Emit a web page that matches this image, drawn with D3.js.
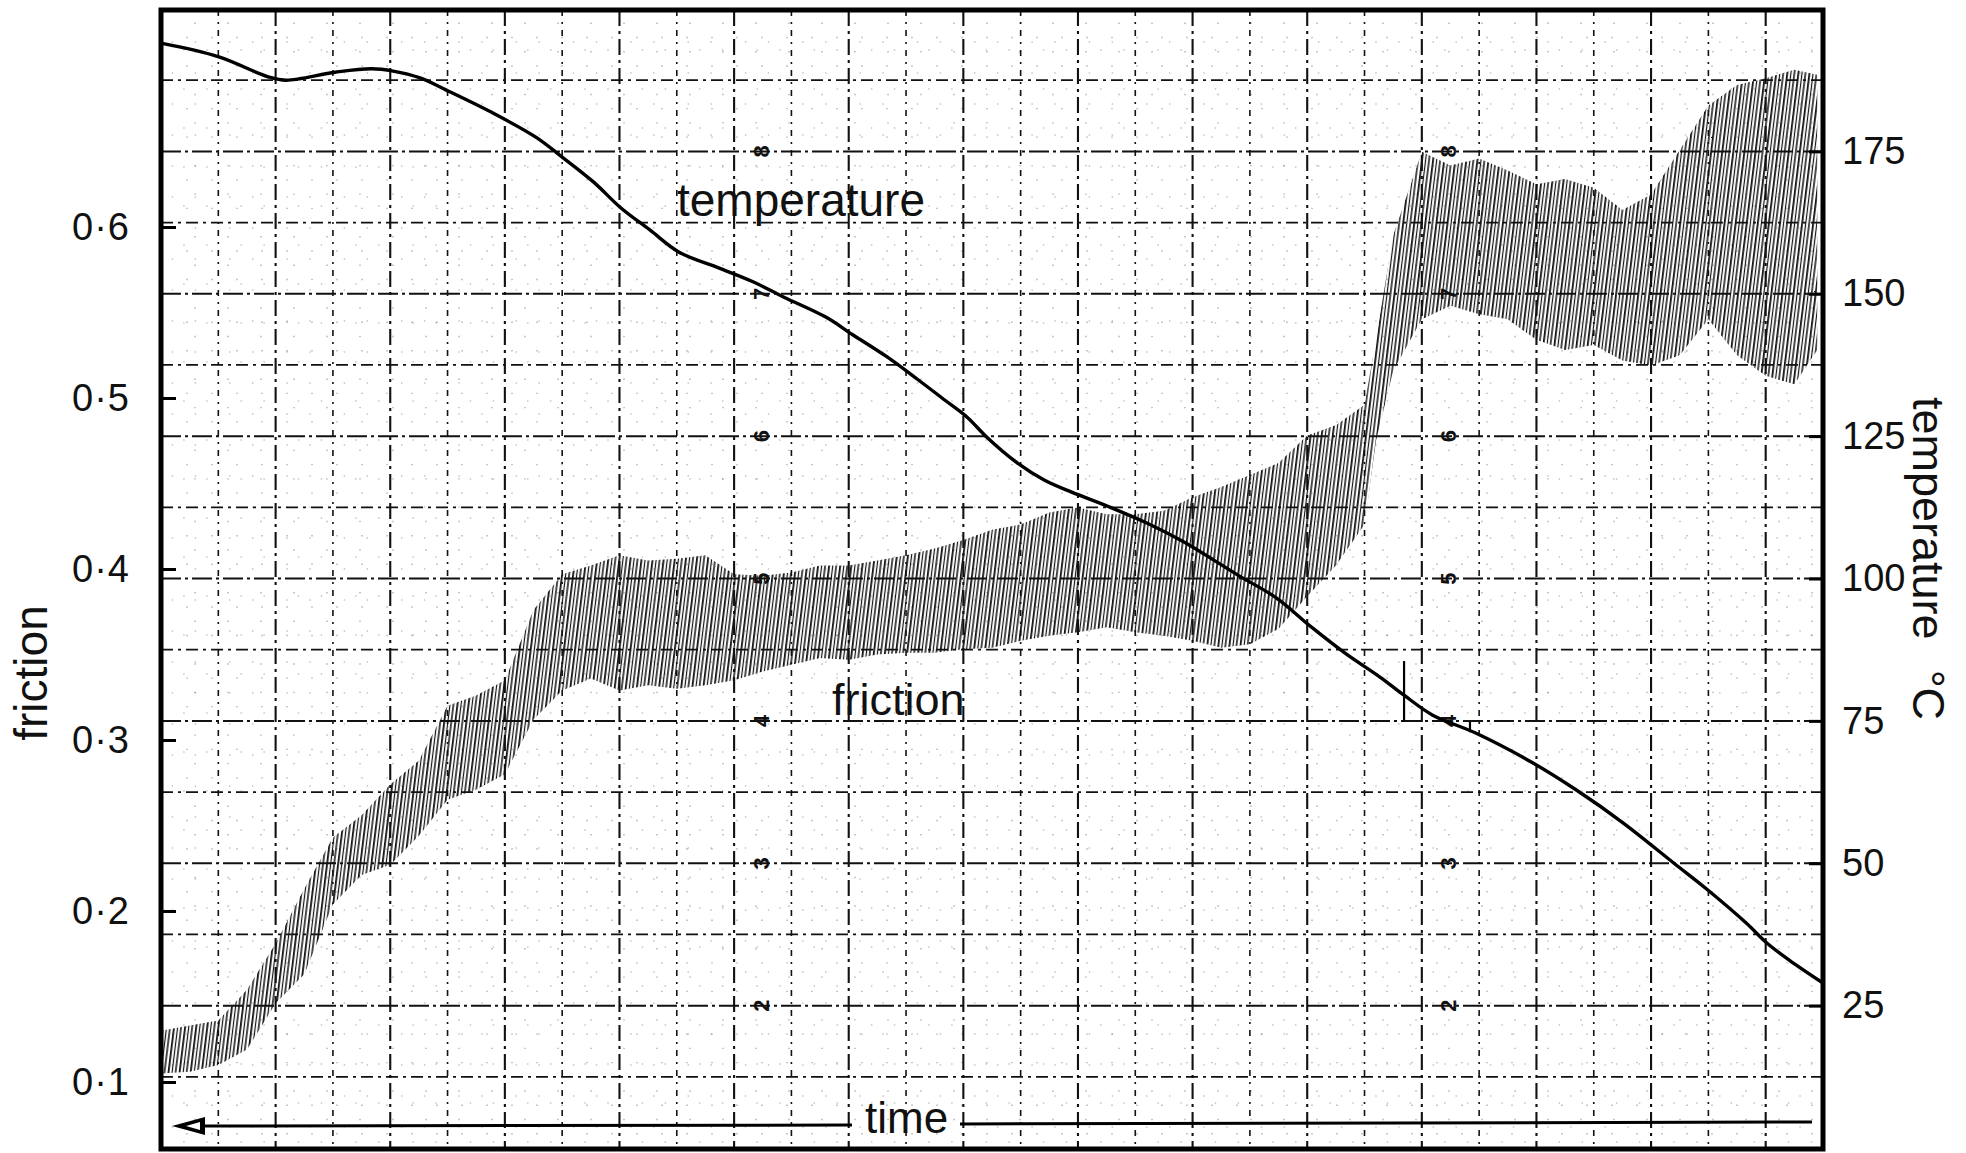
<!DOCTYPE html>
<html>
<head>
<meta charset="utf-8">
<script src="https://cdn.jsdelivr.net/npm/d3@7"></script>
<style>
  html, body { margin: 0; padding: 0; background: #fff; }
  svg { display: block; }
  text { font-family: "Liberation Sans", Arial, sans-serif; fill: #111; }
</style>
</head>
<body>
<svg id="chart" width="1966" height="1153"></svg>
<script>
// Time is measured in chart-paper divisions (29 across the recorder sheet).

// Temperature trace (°C)
const tempTime = [0, 1.01, 1.87, 2.18, 3.04, 3.67, 4.05, 4.52, 4.97, 5.76, 6.54, 7.00, 7.55, 8.01, 8.53, 9.04,
  9.74, 10.33, 10.87, 11.60, 12.07, 12.67, 13.21, 13.68, 14.08, 14.41, 14.94, 15.41, 15.88, 16.54, 17.21,
  17.85, 18.79, 19.46, 20.07, 20.66, 21.27, 21.69, 22.19, 22.93, 23.94, 24.69, 25.51, 26.40, 26.99, 27.66,
  28.02, 28.41, 28.98];
const tempValues = [194.0, 191.6, 188.1, 187.5, 188.9, 189.5, 189.1, 187.9, 185.8, 181.9, 177.5, 174.0, 169.6,
  165.2, 161.2, 157.3, 154.5, 152.1, 149.4, 145.9, 142.8, 138.9, 134.9, 131.3, 128.2, 124.8, 120.3, 117.3,
  115.2, 112.6, 109.7, 106.4, 100.6, 96.6, 91.5, 86.9, 82.7, 79.5, 76.0, 72.9, 67.6, 62.9, 57.1, 50.0, 45.3,
  39.5, 36.0, 33.0, 29.1];

// Friction trace: stick-slip band, upper and lower extremes of the pen swing
const frictionTime = [0, 0.5, 1, 1.5, 2, 2.5, 3, 3.5, 4, 4.5, 5, 5.5, 6, 6.5, 7, 7.5, 8, 8.5, 9, 9.5, 10,
  10.5, 11, 11.5, 12, 12.5, 13, 13.5, 14, 14.5, 15, 15.5, 16, 16.5, 17, 17.5, 18, 18.5, 19, 19.5, 20, 20.5,
  21, 21.2, 21.5, 22, 22.5, 23, 23.5, 24, 24.5, 25, 25.5, 26, 26.5, 27, 27.5, 28, 28.5, 28.9];
const frictionHigh = [0.130, 0.133, 0.136, 0.154, 0.181, 0.213, 0.243, 0.256, 0.274, 0.288, 0.320, 0.326,
  0.335, 0.376, 0.397, 0.402, 0.408, 0.405, 0.406, 0.408, 0.397, 0.396, 0.398, 0.402, 0.402, 0.405, 0.408,
  0.412, 0.417, 0.423, 0.426, 0.433, 0.436, 0.432, 0.432, 0.434, 0.442, 0.448, 0.455, 0.462, 0.478, 0.484,
  0.496, 0.534, 0.595, 0.644, 0.636, 0.640, 0.633, 0.625, 0.628, 0.623, 0.610, 0.619, 0.645, 0.671, 0.683,
  0.687, 0.692, 0.689];
const frictionLow = [0.105, 0.106, 0.110, 0.119, 0.146, 0.163, 0.204, 0.221, 0.227, 0.244, 0.265, 0.271,
  0.280, 0.312, 0.329, 0.336, 0.329, 0.332, 0.330, 0.332, 0.335, 0.340, 0.344, 0.348, 0.347, 0.350, 0.351,
  0.351, 0.353, 0.354, 0.358, 0.361, 0.363, 0.366, 0.363, 0.361, 0.358, 0.354, 0.356, 0.365, 0.384, 0.402,
  0.426, 0.475, 0.516, 0.546, 0.554, 0.549, 0.546, 0.534, 0.528, 0.531, 0.522, 0.519, 0.525, 0.546, 0.525,
  0.513, 0.508, 0.528];

// Short pen marks crossing the temperature trace
const markTime = [21.69, 22.84];
const markFrom = [85.5, 74.8];
const markTo = [75.0, 73.0];

// Axis ticks
const frictionTicks = [0.1, 0.2, 0.3, 0.4, 0.5, 0.6];
const frictionTickLabels = ["0·1", "0·2", "0·3", "0·4", "0·5", "0·6"];
const tempTicks = [25, 50, 75, 100, 125, 150, 175];

// Printed scale of the recorder paper
const paperDigits = ["2", "3", "4", "5", "6", "7", "8"];
const paperDigitTemps = [25, 50, 75, 100, 125, 150, 175];
const paperDigitColumns = [10.47, 22.47];

const svg = d3.select("#chart");

const plotL = 161, plotR = 1823, plotT = 10, plotB = 1149;
const x = d3.scaleLinear().domain([0, 29]).range([plotL, plotR]);
const yT = d3.scaleLinear().domain([0, 200]).range([1148, 9]);
const yF = d3.scaleLinear().domain([0.1, 0.6]).range([1082, 227]);

// hatch used for the dense stick-slip strokes
const defs = svg.append("defs");
const pat = defs.append("pattern")
  .attr("id", "strokes")
  .attr("patternUnits", "userSpaceOnUse")
  .attr("width", 11).attr("height", 60)
  .attr("patternTransform", "rotate(7)");
[[0, 1.8], [3.9, 1.2], [7.2, 1.5]].forEach(([px, w]) => {
  pat.append("rect").attr("x", px).attr("y", 0).attr("width", w).attr("height", 60).attr("fill", "#111");
});

defs.append("clipPath").attr("id", "plot")
  .append("rect").attr("x", plotL).attr("y", plotT).attr("width", plotR - plotL).attr("height", plotB - plotT);

// --- paper grid ---
const grid = svg.append("g").attr("clip-path", "url(#plot)");

// fine dotted subdivisions (sparse specks of the printed fine grid)
const minorT = d3.range(2.5, 200, 2.5).filter(v => Math.abs(v / 12.5 - Math.round(v / 12.5)) > 1e-6);
grid.selectAll("line.minorH").data(minorT).join("line")
  .attr("x1", plotL).attr("x2", plotR)
  .attr("y1", d => yT(d)).attr("y2", d => yT(d))
  .attr("stroke", "#000").attr("stroke-width", 1.4).attr("stroke-opacity", 0.22)
  .attr("stroke-dasharray", (d, i) => i % 2 ? "2,31" : "2,23");
const minorX = d3.range(0.2, 29, 0.2).filter(v => Math.abs(v - Math.round(v)) > 1e-6);
grid.selectAll("line.minorV").data(minorX).join("line")
  .attr("y1", plotT).attr("y2", plotB)
  .attr("x1", d => x(d)).attr("x2", d => x(d))
  .attr("stroke", "#000").attr("stroke-width", 1.4).attr("stroke-opacity", 0.18)
  .attr("stroke-dasharray", (d, i) => i % 2 ? "2,37" : "2,29");

// main grid lines
const majorT = d3.range(1, 16).map(i => i * 12.5);
grid.selectAll("line.h").data(majorT).join("line")
  .attr("x1", plotL).attr("x2", plotR)
  .attr("y1", d => yT(d)).attr("y2", d => yT(d))
  .attr("stroke", "#111")
  .attr("stroke-width", (d, i) => i % 2 ? 2 : 1.7)
  .attr("stroke-dasharray", (d, i) => i % 2 ? "20,4,3,4" : "12,5,3,5");
const majorX = d3.range(1, 29);
grid.selectAll("line.v").data(majorX).join("line")
  .attr("y1", plotT).attr("y2", plotB)
  .attr("x1", d => x(d)).attr("x2", d => x(d))
  .attr("stroke", "#111")
  .attr("stroke-width", d => d % 2 ? 1.6 : 2.1)
  .attr("stroke-dasharray", d => d % 2 ? "6,6,2,6" : "16,5,3,5");

// printed paper scale digits
paperDigitColumns.forEach(c => {
  svg.append("g").selectAll("text").data(paperDigits).join("text")
    .attr("transform", (d, i) => `translate(${x(c)},${yT(paperDigitTemps[i])}) rotate(-90)`)
    .attr("text-anchor", "middle")
    .attr("dy", "0.35em")
    .attr("font-size", 22)
    .attr("font-weight", "bold")
    .text(d => d);
});

// --- friction band ---
const frictionData = frictionTime.map((t, i) => ({ t, hi: frictionHigh[i], lo: frictionLow[i] }));
svg.append("path")
  .datum(frictionData)
  .attr("clip-path", "url(#plot)")
  .attr("fill", "url(#strokes)")
  .attr("d", d3.area()
    .x(d => x(d.t))
    .y0(d => yF(d.lo))
    .y1(d => yF(d.hi))
    .curve(d3.curveLinear));

// --- temperature trace ---
const tempData = tempTime.map((t, i) => ({ t, v: tempValues[i] }));
svg.append("path")
  .datum(tempData)
  .attr("fill", "none")
  .attr("stroke", "#000")
  .attr("stroke-width", 3.4)
  .attr("stroke-linejoin", "round")
  .attr("d", d3.line().x(d => x(d.t)).y(d => yT(d.v)).curve(d3.curveCatmullRom.alpha(0.5)));

svg.append("g").selectAll("line").data(markTime).join("line")
  .attr("x1", d => x(d)).attr("x2", d => x(d))
  .attr("y1", (d, i) => yT(markFrom[i])).attr("y2", (d, i) => yT(markTo[i]))
  .attr("stroke", "#000").attr("stroke-width", 2.2);

// --- frame ---
svg.append("rect")
  .attr("x", plotL).attr("y", plotT).attr("width", plotR - plotL).attr("height", plotB - plotT)
  .attr("fill", "none").attr("stroke", "#000").attr("stroke-width", 5);

// --- axes ---
const axL = d3.axisLeft(yF).tickValues(frictionTicks)
  .tickFormat((d, i) => frictionTickLabels[i]).tickSizeInner(-15).tickSizeOuter(0).tickPadding(31);
const gL = svg.append("g").attr("transform", `translate(${plotL},0)`).call(axL);
gL.select(".domain").remove();
gL.selectAll(".tick line").attr("stroke", "#000").attr("stroke-width", 3);
gL.selectAll(".tick text").attr("font-size", 38).attr("font-family", "Liberation Sans, Arial, sans-serif")
  .attr("fill", "#111").attr("letter-spacing", 1);

const axR = d3.axisRight(yT).tickValues(tempTicks)
  .tickSizeInner(-14).tickSizeOuter(0).tickPadding(19);
const gR = svg.append("g").attr("transform", `translate(${plotR},0)`).call(axR);
gR.select(".domain").remove();
gR.selectAll(".tick line").attr("stroke", "#000").attr("stroke-width", 3);
gR.selectAll(".tick text").attr("font-size", 38).attr("font-family", "Liberation Sans, Arial, sans-serif")
  .attr("fill", "#111");

// axis titles
svg.append("text")
  .attr("transform", "translate(47,673) rotate(-90)")
  .attr("text-anchor", "middle")
  .attr("font-size", 46)
  .text("friction");

const rt = svg.append("text")
  .attr("transform", "translate(1913,397) rotate(90)")
  .attr("text-anchor", "start")
  .attr("font-size", 45);
rt.append("tspan").text("temperature");
rt.append("tspan").attr("dx", 30).text("°C");

// trace labels
svg.append("text").attr("x", 677).attr("y", 216).attr("font-size", 46).text("temperature");
svg.append("text").attr("x", 832).attr("y", 715).attr("font-size", 45).text("friction");

// time arrow
const arrowY = 1125;
svg.append("line").attr("x1", 190).attr("x2", 852).attr("y1", arrowY + 1).attr("y2", arrowY)
  .attr("stroke", "#000").attr("stroke-width", 3);
svg.append("line").attr("x1", 960).attr("x2", 1812).attr("y1", arrowY - 1).attr("y2", arrowY - 3)
  .attr("stroke", "#000").attr("stroke-width", 3);
svg.append("path")
  .attr("d", `M172,${arrowY + 1} L205,${arrowY - 8} L205,${arrowY + 10} Z`)
  .attr("fill", "#000");
svg.append("path")
  .attr("d", `M186,${arrowY + 1} L200,${arrowY - 3} L200,${arrowY + 5} Z`)
  .attr("fill", "#fff");
svg.append("text").attr("x", 865).attr("y", 1133).attr("font-size", 44).text("time");
</script>
</body>
</html>
